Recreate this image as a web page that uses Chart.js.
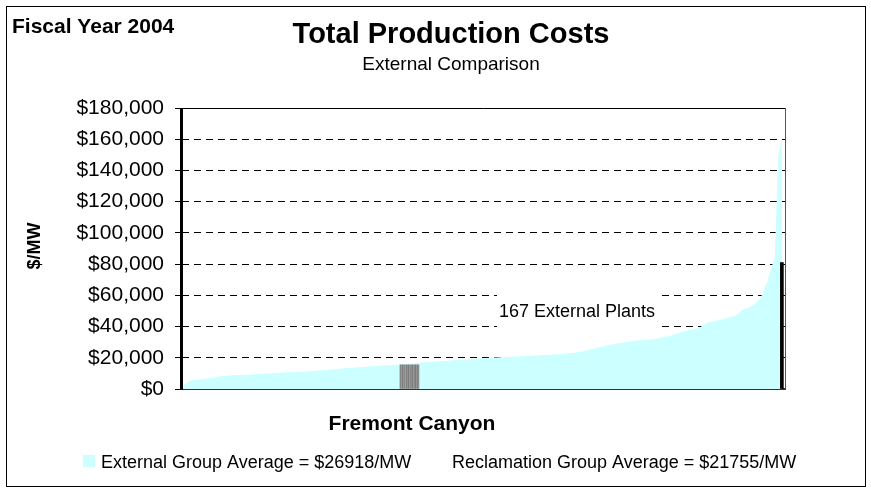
<!DOCTYPE html>
<html>
<head>
<meta charset="utf-8">
<title>Total Production Costs</title>
<script src="https://cdn.jsdelivr.net/npm/chart.js@4.4.1/dist/chart.umd.min.js"></script>
<style>
  body { margin: 0; background: #fff; }
  #wrap { width: 871px; height: 493px; }
</style>
</head>
<body>
<div id="wrap"><canvas id="grafik" width="871" height="493"></canvas></div>
<script>
// cost per MW of the 167 external plants, sorted low to high
const plantCosts = [
  1000, 3500, 5000, 5600, 5900,
  6200, 6400, 6700, 7000, 7300,
  7800, 8300, 8500, 8700, 8800,
  8900, 9000, 9100, 9200, 9300,
  9400, 9550, 9700, 9850, 10000,
  10150, 10300, 10450, 10550, 10650,
  10750, 10850, 10950, 11100, 11200,
  11350, 11500, 11700, 11900, 12050,
  12250, 12450, 12650, 12850, 13050,
  13250, 13450, 13650, 13850, 14000,
  14150, 14300, 14500, 14650, 14800,
  14950, 15100, 15250, 15400, 15550,
  15700, 15850, 16000, 16200, 16400,
  16700, 16900, 17100, 17250, 17400,
  17550, 17700, 17850, 18000, 18200,
  18400, 18550, 18700, 18900, 19050,
  19200, 19350, 19500, 19700, 19900,
  20000, 20100, 20200, 20300, 20400,
  20500, 20600, 20750, 20850, 21000,
  21100, 21200, 21350, 21500, 21600,
  21750, 21850, 22000, 22150, 22300,
  22500, 22700, 22900, 23100, 23400,
  23700, 24200, 24800, 25400, 26000,
  26500, 27000, 27500, 28000, 28500,
  29000, 29400, 29800, 30100, 30400,
  30700, 31000, 31200, 31400, 31600,
  31800, 32200, 32700, 33200, 33600,
  34000, 34800, 35500, 36300, 37000,
  37600, 38000, 38400, 39000, 40500,
  42000, 42800, 43200, 43800, 44400,
  45000, 45600, 46200, 46800, 48500,
  50800, 51500, 52300, 53500, 55500,
  58000, 63000, 69000, 77000, 84000, 150000, 160000
];

// Fremont Canyon (Reclamation plant) placed among the external plants
const fremontName = 'Fremont Canyon';
const fremontRank = 61.3;
const fremontCost = 15500;

// dark bar at the far right end
const endRank = 167.4;
const endCost = 81000;

const yTicks = [0, 20000, 40000, 60000, 80000, 100000, 120000, 140000, 160000, 180000];

const judul = 'Total Production Costs';
const subJudul = 'External Comparison';
const tahun = 'Fiscal Year 2004';
const labelY = '$/MW';
const catatan = '167 External Plants';
const legendExternal = 'External Group Average = $26918/MW';
const legendReclamation = 'Reclamation Group Average = $21755/MW';

const FONT = "'Liberation Sans', Arial, sans-serif";

function buatPolaAbu() {
  const c = document.createElement('canvas');
  c.width = 19; c.height = 4;
  const g = c.getContext('2d');
  const warna = ['#8e8e8e', '#858585', '#9a9a9a', '#7c7c7c', '#959595', '#888888', '#a0a0a0', '#808080',
    '#939393', '#7a7a7a', '#9c9c9c', '#868686', '#909090', '#7e7e7e', '#989898', '#8a8a8a', '#7b7b7b', '#969696', '#828282'];
  warna.forEach((w, i) => { g.fillStyle = w; g.fillRect(i, 0, 1, 4); });
  return g.createPattern(c, 'repeat');
}

const teksPlugin = {
  id: 'teks',
  beforeDatasetsDraw(chart) {
    const ctx = chart.ctx;
    ctx.save();
    ctx.fillStyle = '#fff';
    ctx.fillRect(497, 291, 164, 40);
    ctx.fillStyle = '#000';
    ctx.font = '18px ' + FONT;
    ctx.textAlign = 'left';
    ctx.textBaseline = 'alphabetic';
    ctx.fillText(catatan, 499, 317);
    ctx.restore();
  },
  afterDraw(chart) {
    const ctx = chart.ctx;
    const area = chart.chartArea;
    ctx.save();
    // plot border (top and right)
    ctx.lineWidth = 1;
    ctx.strokeStyle = '#000';
    ctx.beginPath();
    ctx.moveTo(area.left, area.top + 0.5);
    ctx.lineTo(area.right + 0.5, area.top + 0.5);
    ctx.stroke();
    ctx.strokeStyle = '#555';
    ctx.beginPath();
    ctx.moveTo(area.right + 0.5, area.top);
    ctx.lineTo(area.right + 0.5, area.bottom);
    ctx.stroke();

    // solid value axis
    ctx.fillStyle = '#000';
    ctx.fillRect(area.left - 2, area.top, 3, area.bottom - area.top + 1);

    // outer frame
    ctx.strokeStyle = '#000';
    ctx.strokeRect(6.5, 6.5, 859, 480);

    ctx.fillStyle = '#000';
    ctx.textBaseline = 'alphabetic';
    ctx.textAlign = 'left';
    ctx.font = 'bold 21px ' + FONT;
    ctx.fillText(tahun, 12, 33);

    ctx.textAlign = 'center';
    ctx.font = 'bold 29px ' + FONT;
    ctx.fillText(judul, 451, 43);
    ctx.font = '19px ' + FONT;
    ctx.fillText(subJudul, 451, 70);

    ctx.font = 'bold 21px ' + FONT;
    ctx.fillText(fremontName, 412, 430);

    ctx.save();
    ctx.translate(35, 246);
    ctx.rotate(-Math.PI / 2);
    ctx.font = 'bold 18px ' + FONT;
    ctx.textBaseline = 'middle';
    ctx.fillText(labelY, 0, 0);
    ctx.restore();

    // legend
    ctx.fillStyle = '#ccffff';
    ctx.fillRect(83, 455, 12, 12);
    ctx.fillStyle = '#000';
    ctx.textAlign = 'left';
    ctx.font = '18px ' + FONT;
    ctx.fillText(legendExternal, 101, 468);
    ctx.fillText(legendReclamation, 452, 468);
    ctx.restore();
  }
};

const ctx = document.getElementById('grafik').getContext('2d');
const grafik = new Chart(ctx, {
  type: 'line',
  data: {
    datasets: [
      {
        type: 'line',
        data: plantCosts.map((v, i) => ({ x: i + 1, y: v })),
        fill: 'origin',
        backgroundColor: '#ccffff',
        borderWidth: 0,
        pointRadius: 0,
        tension: 0,
        order: 3
      },
      {
        type: 'bar',
        data: [{ x: fremontRank, y: fremontCost }],
        backgroundColor: buatPolaAbu(),
        barThickness: 19,
        borderWidth: 0,
        order: 2
      },
      {
        type: 'bar',
        data: [{ x: endRank, y: endCost }],
        backgroundColor: '#000',
        barThickness: 3,
        borderWidth: 0,
        order: 1
      }
    ]
  },
  options: {
    responsive: false,
    animation: false,
    devicePixelRatio: 1,
    layout: { padding: { left: 0, top: 108, right: 86, bottom: 104 } },
    plugins: {
      legend: { display: false },
      tooltip: { enabled: false },
      title: { display: false }
    },
    scales: {
      x: {
        type: 'linear',
        min: 1,
        max: 167.85,
        offset: false,
        grid: { display: false },
        ticks: { display: false },
        border: { display: true, color: '#333', width: 2 },
        afterFit: s => { s.height = 0; }
      },
      y: {
        min: 0,
        max: 180000,
        afterFit: s => { s.width = 182; },
        afterBuildTicks: s => { s.ticks = yTicks.map(v => ({ value: v })); },
        ticks: {
          color: '#000',
          font: { family: FONT, size: 21 },
          padding: 11,
          callback: v => '$' + Number(v).toLocaleString('en-US')
        },
        grid: {
          color: c => (c.tick && (c.tick.value === 0 || c.tick.value === 180000)) ? 'rgba(0,0,0,0)' : '#000',
          tickColor: '#000',
          tickLength: 7,
          lineWidth: 1
        },
        border: { display: false, dash: [7, 5] }
      }
    }
  },
  plugins: [teksPlugin]
});
</script>
</body>
</html>
